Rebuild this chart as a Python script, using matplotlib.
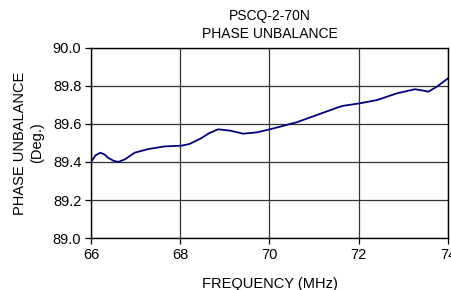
import matplotlib
matplotlib.use("Agg")
import matplotlib.pyplot as plt

freq = [66.0, 66.1, 66.21, 66.3, 66.38, 66.5, 66.61, 66.76, 66.98, 67.28, 67.65,
        68.03, 68.21, 68.47, 68.65, 68.85, 69.12, 69.41, 69.72, 70.01, 70.61,
        71.13, 71.54, 71.66, 72.03, 72.41, 72.85, 73.26, 73.4, 73.56, 73.75, 74.0]
phase = [89.40, 89.435, 89.449, 89.44, 89.423, 89.407, 89.40, 89.414, 89.449,
         89.468, 89.482, 89.486, 89.495, 89.525, 89.552, 89.572, 89.565, 89.549,
         89.556, 89.572, 89.609, 89.653, 89.688, 89.696, 89.709, 89.726, 89.761,
         89.783, 89.778, 89.770, 89.796, 89.84]

xticks = [66, 68, 70, 72, 74]
yticks = [89.0, 89.2, 89.4, 89.6, 89.8, 90.0]

plt.rcParams['font.family'] = ['Liberation Sans', 'DejaVu Sans']

fig = plt.figure(figsize=(4.52, 2.90), dpi=100)
ax = fig.add_axes([0.2013, 0.1793, 0.7897, 0.6552])
ax.plot(freq, phase, color='#000080', lw=1.3, solid_joinstyle='round')
ax.set_xlim(66, 74)
ax.set_ylim(89.0, 90.0)
ax.set_xticks(xticks)
ax.set_yticks(yticks)
ax.set_xticklabels([str(t) for t in xticks])
ax.set_yticklabels([f"{t:.1f}" for t in yticks])
ax.grid(True, color='#333333', lw=0.9)
ax.tick_params(axis='both', direction='out', length=4, width=0.9, labelsize=10.5, colors='black', pad=3)
ax.tick_params(axis='x', pad=3)
for s in ax.spines.values():
    s.set_linewidth(1.0)
    s.set_color('black')
ax.set_xlabel('FREQUENCY (MHz)', fontsize=10.5, labelpad=11)
ax.set_ylabel('PHASE UNBALANCE\n(Deg.)', fontsize=10.5, labelpad=6, linespacing=1.3)
ax.set_title('PSCQ-2-70N\nPHASE UNBALANCE', fontsize=10, pad=7, linespacing=1.4)
for lbl in ax.get_xticklabels():
    lbl.set_clip_on(False)
fig.savefig('out.png', dpi=100)
